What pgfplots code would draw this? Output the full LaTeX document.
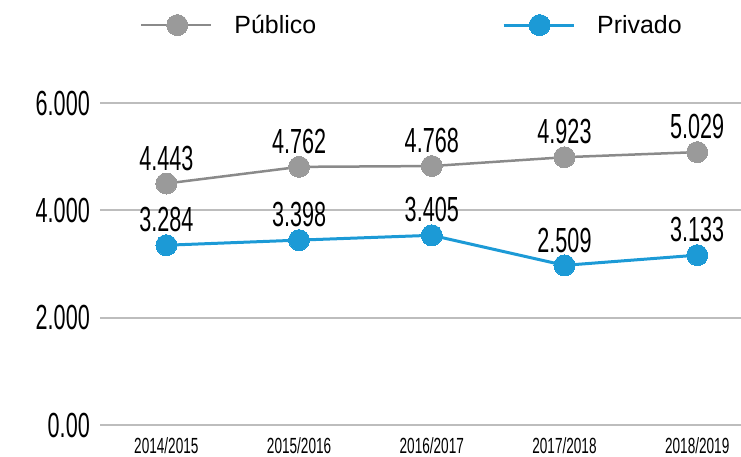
\documentclass[border=0pt]{standalone}
\usepackage{graphicx}
\usepackage{pgfplots}
\pgfplotsset{compat=1.18}
\usepackage{fontspec}
\setmainfont{Liberation Sans}
\newfontfamily\hand{Liberation Sans}[FakeStretch=0.62]
\definecolor{pubgray}{HTML}{9A9A9A}
\definecolor{publine}{HTML}{8A8A8A}
\definecolor{privblue}{HTML}{1C9AD6}
\definecolor{gridgray}{HTML}{BDBDBD}
\newcommand{\yl}[1]{\mbox{\scalebox{0.62}[1]{\fontsize{35}{35}\selectfont #1}}}
\newcommand{\xl}[1]{\mbox{\hand\fontsize{22}{22}\selectfont #1}}
\begin{document}
\begin{tikzpicture}
\useasboundingbox (0bp,0bp) rectangle (741bp,457bp);
\begin{axis}[
  at={(100bp,32bp)}, anchor=south west,
  scale only axis, width=641bp, height=322bp,
  xmin=-0.5, xmax=4.33, ymin=0, ymax=6000,
  axis line style={draw=none},
  major tick length=0pt,
  xtick={0,1,2,3,4},
  xticklabels={\xl{2014/2015},\xl{2015/2016},\xl{2016/2017},\xl{2017/2018},\xl{2018/2019}},
  ytick={0,2000,4000,6000},
  yticklabels={\yl{0.00},\yl{2.000},\yl{4.000},\yl{6.000}},
  ymajorgrids, grid style={gridgray, line width=1.8bp},
  yticklabel style={anchor=east, inner sep=0pt, xshift=-10bp},
  xticklabel style={anchor=north, inner sep=0pt, yshift=-12bp},
  clip=false,
  nodes near coords, point meta=explicit symbolic,
  every node near coord/.style={font=\hand\fontsize{35}{35}\selectfont, anchor=south, inner sep=0pt, yshift=13bp, text=black},
  legend style={at={(0.0624,1.242)}, anchor=west, draw=none, fill=none, inner sep=0pt, outer sep=0pt,
    nodes={inner sep=0pt},
    font=\fontsize{25}{25}\selectfont,
    /tikz/every odd column/.append style={column sep=22bp},
    /tikz/every even column/.append style={column sep=186bp}},
  legend columns=2,
  legend image code/.code={\draw[mark repeat=2,mark phase=2,#1] plot coordinates {(0bp,0bp) (36bp,0bp) (70bp,0bp)};},
]
\addplot[publine, line width=2.5bp, mark=*, mark size=10.5bp, mark options={fill=pubgray, draw=pubgray, line width=0pt}]
  coordinates {(0,4500)[4.443] (1,4810)[4.762] (2,4825)[4.768] (3,4990)[4.923] (4,5085)[5.029]};
\addlegendentry{Público}
\addplot[privblue, line width=3bp, mark=*, mark size=10.5bp, mark options={fill=privblue, draw=privblue, line width=0pt}]
  coordinates {(0,3350)[3.284] (1,3445)[3.398] (2,3535)[3.405] (3,2975)[2.509] (4,3165)[3.133]};
\addlegendentry{Privado}
\end{axis}
\end{tikzpicture}
\end{document}
